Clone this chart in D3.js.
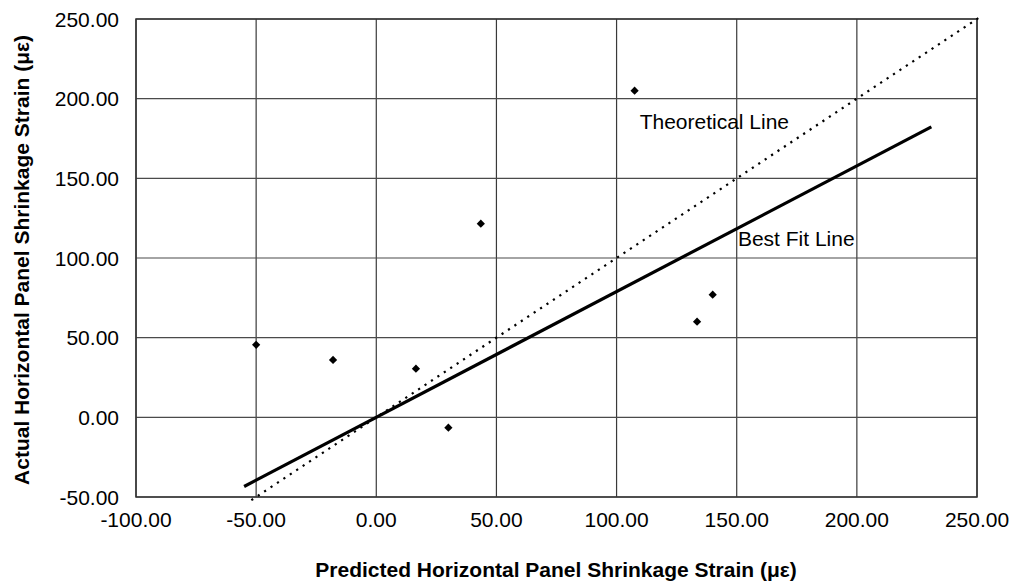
<!DOCTYPE html>
<html>
<head>
<meta charset="utf-8">
<script src="https://cdn.jsdelivr.net/npm/d3@7"></script>
<style>
  body { margin: 0; background: #fff; }
  svg { display: block; }
  text { font-family: "Liberation Sans", Arial, sans-serif; fill: #000; }
</style>
</head>
<body>
<svg id="chart" width="1015" height="587"></svg>
<script>
// measured points (predicted, actual)
let predicted = [-50, -18, 16.5, 30, 43.5, 107.5, 133.5, 140];
let actual    = [45.5, 36, 30.5, -6.5, 121.5, 205, 60, 77];

// best fit line end points and the 1:1 theoretical line
let bestFitX = [-55, 231];
let bestFitY = [-43.4, 182.3];
let theoryX  = [-52, 252];
let theoryY  = [-52, 252];

let xTicks = [-100, -50, 0, 50, 100, 150, 200, 250];
let yTicks = [-50, 0, 50, 100, 150, 200, 250];

let labels = [
    {text: "Theoretical Line", x: 109.6, y: 180.8},
    {text: "Best Fit Line", x: 150.5, y: 107.7}
];

let margin = {top: 19, right: 38, bottom: 90, left: 136};
let width = 1015, height = 587;

let svg = d3.select("#chart");

let x = d3.scaleLinear().domain([-100, 250]).range([margin.left, width - margin.right]);
let y = d3.scaleLinear().domain([-50, 250]).range([height - margin.bottom, margin.top]);
// plain hyphen for negatives, like the original
let fmt = d => d3.format(".2f")(d).replace("\u2212", "-");

// grid
svg.append("g").selectAll("line").data(xTicks).enter().append("line")
    .attr("x1", d => x(d)).attr("x2", d => x(d))
    .attr("y1", y(-50)).attr("y2", y(250))
    .attr("stroke", "#3a3a3a").attr("stroke-width", 1.2);

svg.append("g").selectAll("line").data(yTicks).enter().append("line")
    .attr("x1", x(-100)).attr("x2", x(250))
    .attr("y1", d => y(d)).attr("y2", d => y(d))
    .attr("stroke", "#4a4a4a").attr("stroke-width", 1.2);

// frame
svg.append("rect")
    .attr("x", x(-100)).attr("y", y(250))
    .attr("width", x(250) - x(-100)).attr("height", y(-50) - y(250))
    .attr("fill", "none").attr("stroke", "#333").attr("stroke-width", 1.5);

// tick labels
svg.append("g").selectAll("text").data(xTicks).enter().append("text")
    .attr("x", d => x(d)).attr("y", y(-50) + 30)
    .attr("text-anchor", "middle").style("font-size", "21px")
    .text(d => fmt(d));

svg.append("g").selectAll("text").data(yTicks).enter().append("text")
    .attr("x", x(-100) - 17).attr("y", d => y(d))
    .attr("dy", "0.36em")
    .attr("text-anchor", "end").style("font-size", "21px")
    .text(d => fmt(d));

// lines
let line = d3.line().x(d => x(d[0])).y(d => y(d[1]));

svg.append("path")
    .datum(d3.zip(theoryX, theoryY))
    .attr("d", line)
    .attr("fill", "none").attr("stroke", "#000")
    .attr("stroke-width", 2.2).attr("stroke-dasharray", "2.2,5.5");

svg.append("path")
    .datum(d3.zip(bestFitX, bestFitY))
    .attr("d", line)
    .attr("fill", "none").attr("stroke", "#000").attr("stroke-width", 3.2);

// points (square turned 45 degrees)
svg.append("g").selectAll("path").data(d3.zip(predicted, actual)).enter().append("path")
    .attr("d", d3.symbol().type(d3.symbolSquare).size(34))
    .attr("transform", d => "translate(" + x(d[0]) + "," + y(d[1]) + ") rotate(45)")
    .attr("fill", "#000");

// annotations
svg.append("g").selectAll("text").data(labels).enter().append("text")
    .attr("x", d => x(d.x)).attr("y", d => y(d.y))
    .style("font-size", "21px")
    .text(d => d.text);

// axis titles
svg.append("text")
    .attr("x", 556).attr("y", 577)
    .attr("text-anchor", "middle")
    .style("font-size", "21px").style("font-weight", "bold")
    .text("Predicted Horizontal Panel Shrinkage Strain (\u03bc\u03b5)");

svg.append("text")
    .attr("transform", "translate(29," + ((y(-50) + y(250)) / 2 + 2) + ") rotate(-90)")
    .attr("text-anchor", "middle")
    .style("font-size", "21px").style("font-weight", "bold")
    .text("Actual Horizontal Panel Shrinkage Strain (\u03bc\u03b5)");
</script>
</body>
</html>
